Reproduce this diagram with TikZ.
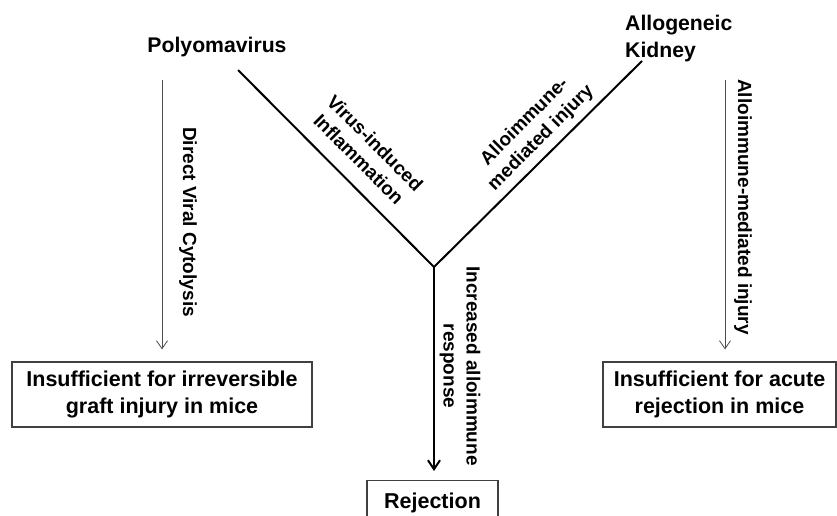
\documentclass[tikz,border=0pt]{standalone}
\usepackage{fontspec}
\setmainfont{Liberation Sans}
\usetikzlibrary{arrows.meta}
\begin{document}
\begin{tikzpicture}[x=1pt,y=-1pt,
  titletext/.style={font=\fontsize{21.2}{27}\selectfont\bfseries, inner sep=0pt, align=left},
  lbl/.style={font=\fontsize{19}{23}\selectfont\bfseries, inner sep=0pt, align=center},
  outcome/.style={draw=black!75, line width=1.2pt, font=\fontsize{21.5}{27}\selectfont\bfseries, align=center, inner sep=0pt},
  thinarr/.style={draw=black!70, line width=0.8pt, -{Straight Barb[length=8pt,width=11pt]}},
  thickarr/.style={line width=2pt, -{Straight Barb[length=9pt,width=12pt]}},
  diag/.style={line width=2pt, line join=miter}]
\useasboundingbox (0,0) rectangle (837,515);
\clip (0,0) rectangle (837,515);
\fill[white] (0,0) rectangle (837,515);
% titles
\node[titletext, anchor=north] (poly) at (217,37) {Polyomavirus};
\node[titletext, anchor=north west] (allo) at (625,15) {Allogeneic\\Kidney};
% outcome boxes
\node[outcome, minimum width=300pt, minimum height=65pt] (lbox) at (162,394.5) {Insufficient for irreversible\\graft injury in mice};
\node[outcome, minimum width=233pt, minimum height=65pt] (rbox) at (719.5,394.5) {Insufficient for acute\\rejection in mice};
\node[outcome, anchor=north, minimum width=131pt, inner ysep=12pt] (rej) at (432.5,480) {Rejection};
% coordinates
\coordinate (J) at (434,267);
\coordinate (ps) at (238,70);
\coordinate (as) at (642,61);
\coordinate (lt) at (162,80);
\coordinate (rt) at (725,80);
% connectors
\draw[diag] (ps) -- (J) -- (as);
\draw[thickarr, shorten >=9pt] (J) -- (J |- rej.north);
\draw[thinarr, shorten >=12pt] (lt) -- (lt |- lbox.north);
\draw[thinarr, shorten >=12pt] (rt) -- (rt |- rbox.north);
% labels
\node[lbl, rotate=-90] (dvc) at (188,222) {Direct Viral Cytolysis};
\node[lbl, rotate=-90] (ami) at (743,207) {Alloimmune-mediated injury};
\node[lbl, rotate=-90] (iar) at (460,366) {Increased alloimmune\\response};
\node[lbl, rotate=-45] (vii) at (367,151) {Virus-induced\\Inflammation};
\node[lbl, rotate=45] (amd) at (533,130) {Alloimmune-\\mediated injury};
\end{tikzpicture}
\end{document}
